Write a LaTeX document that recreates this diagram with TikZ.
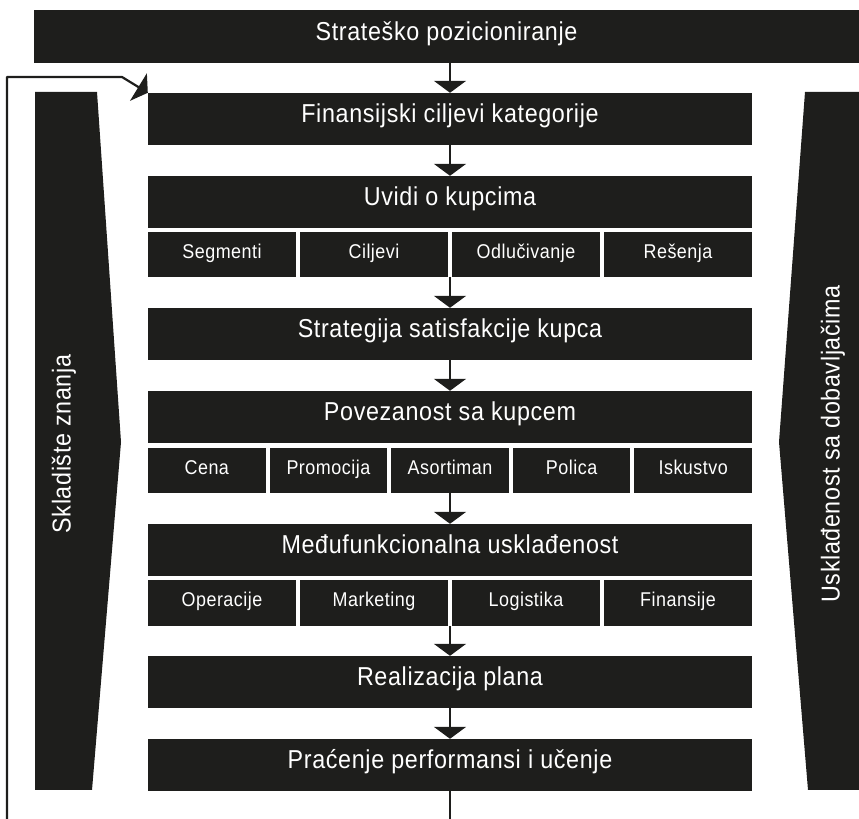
\documentclass[tikz,border=0pt]{standalone}
\usepackage{fontspec}
\setmainfont{Liberation Sans}[FakeStretch=0.9,LetterSpace=2.5]
\usetikzlibrary{arrows.meta}
\definecolor{boxblack}{RGB}{30,30,28}
\begin{document}
\begin{tikzpicture}[>={Triangle[width=32bp,length=12bp]},line join=bevel,
  box/.style={fill=boxblack,text=white,inner sep=0pt,minimum width=604bp,minimum height=52bp,
    text height=0.72em,text depth=0pt,font=\fontsize{26}{30}\selectfont},
  sub/.style={fill=boxblack,text=white,inner sep=0pt,minimum height=45bp,
    text height=0.72em,text depth=0pt,font=\fontsize{20}{24}\selectfont},
  side/.style={text=white,rotate=90,text height=0.72em,text depth=0pt,font=\fontsize{26}{30}\selectfont},
  arr/.style={draw=boxblack,line width=2.2bp,->},
]
\useasboundingbox (0bp,0bp) rectangle (859bp,819bp);
%%
\fill [boxblack] (35bp,727bp) -- (97bp,727bp) -- (121bp,377bp) -- (92bp,29bp) -- (35bp,29bp) -- cycle;
\fill [boxblack] (805bp,727bp) -- (859bp,727bp) -- (859bp,29bp) -- (808bp,29bp) -- (779bp,377bp) -- cycle;
\node (side_0) at (67bp,375bp) [side] {Skladište znanja};
\node (side_1) at (836bp,375bp) [side] {Usklađenost sa dobavljačima};
%
\node (node_0) at (446.5bp,782.5bp) [box,minimum width=825bp,minimum height=53bp] {Strateško pozicioniranje};
  \node (node_1) at (450bp,700bp) [box] {Finansijski ciljevi kategorije};
  \node (node_2) at (450bp,617bp) [box] {Uvidi o kupcima};
  \node (node_2a) at (222bp,564.5bp) [sub,minimum width=148bp] {Segmenti};
  \node (node_2b) at (374bp,564.5bp) [sub,minimum width=148bp] {Ciljevi};
  \node (node_2c) at (526bp,564.5bp) [sub,minimum width=148bp] {Odlučivanje};
  \node (node_2d) at (678bp,564.5bp) [sub,minimum width=148bp] {Rešenja};
  \node (node_3) at (450bp,485bp) [box] {Strategija satisfakcije kupca};
  \node (node_4) at (450bp,402bp) [box] {Povezanost sa kupcem};
  \node (node_4a) at (206.8bp,348.5bp) [sub,minimum width=117.6bp] {Cena};
  \node (node_4b) at (328.4bp,348.5bp) [sub,minimum width=117.6bp] {Promocija};
  \node (node_4c) at (450bp,348.5bp) [sub,minimum width=117.6bp] {Asortiman};
  \node (node_4d) at (571.6bp,348.5bp) [sub,minimum width=117.6bp] {Polica};
  \node (node_4e) at (693.2bp,348.5bp) [sub,minimum width=117.6bp] {Iskustvo};
  \node (node_5) at (450bp,269bp) [box] {Međufunkcionalna usklađenost};
  \node (node_5a) at (222bp,216bp) [sub,minimum width=148bp,minimum height=46bp] {Operacije};
  \node (node_5b) at (374bp,216bp) [sub,minimum width=148bp,minimum height=46bp] {Marketing};
  \node (node_5c) at (526bp,216bp) [sub,minimum width=148bp,minimum height=46bp] {Logistika};
  \node (node_5d) at (678bp,216bp) [sub,minimum width=148bp,minimum height=46bp] {Finansije};
  \node (node_6) at (450bp,137bp) [box] {Realizacija plana};
  \node (node_7) at (450bp,54bp) [box] {Praćenje performansi i učenje};
%
\coordinate (fb_0) at (7bp,0bp);
\coordinate (fb_1) at (122bp,742bp);
\coordinate (end_0) at (450bp,0bp);
  \draw [arr] (node_0.south -| node_1.north) -- (node_1.north);
  \draw [arr] (node_1) -- (node_2);
  \draw [arr] (node_2 |- node_2a.south) -- (node_3.north);
  \draw [arr] (node_3) -- (node_4);
  \draw [arr] (node_4 |- node_4c.south) -- (node_5.north);
  \draw [arr] (node_5 |- node_5a.south) -- (node_6.north);
  \draw [arr] (node_6) -- (node_7);
  \draw [draw=boxblack,line width=2.2bp] (node_7) -- (end_0);
  \draw [draw=boxblack,line width=2.2bp,-{Triangle[width=32bp,length=11bp]}] (fb_0) |- (fb_1) -- (node_1.north west);
%
\end{tikzpicture}
\end{document}
